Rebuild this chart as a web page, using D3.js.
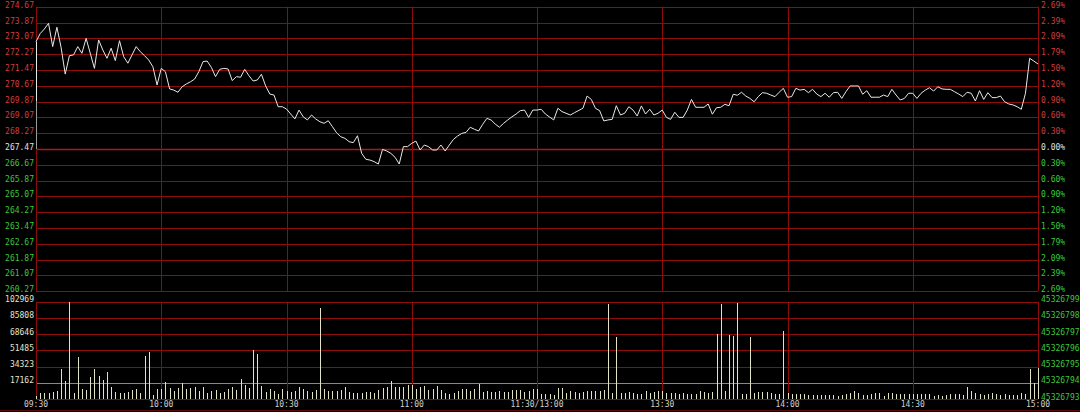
<!DOCTYPE html>
<html><head><meta charset="utf-8">
<script src="https://cdn.jsdelivr.net/npm/d3@7"></script>
<style>
html,body{margin:0;padding:0;background:#000;}
svg{display:block;}
text{font-family:"DejaVu Sans Mono",monospace;font-size:8px;}
</style></head>
<body>
<script>
// ---------- DATA ----------
const preClose = 267.47;
const priceTicks = [274.67,273.87,273.07,272.27,271.47,270.67,269.87,269.07,268.27,267.47,266.67,265.87,265.07,264.27,263.47,262.67,261.87,261.07,260.27];
const pctLabels = ["2.69%","2.39%","2.09%","1.79%","1.50%","1.20%","0.90%","0.60%","0.30%","0.00%","0.30%","0.60%","0.90%","1.20%","1.50%","1.79%","2.09%","2.39%","2.69%"];
const volTicks = [102969,85808,68646,51485,34323,17162];
const volRightTicks = [102969,85808,68646,51485,34323,17162,0];
const volRightLabels = ["45326799","45326798","45326797","45326796","45326795","45326794","45326793"];
const timeMinutes = [0,30,60,90,120,150,180,210,240];
const timeLabels = ["09:30","10:00","10:30","11:00","11:30/13:00","13:30","14:00","14:30","15:00"];
const openSpan = [267.47, 269.9];

const priceMinutes = [0,1,2,3,4,5,6,7,8,9,10,11,12,14,15,16,17,18,19,20,21,22,24,25,26,27,28,29,30,31,32,33,34,35,36,37,38,39,40,41,42,43,44,45,46,47,48,49,50,51,52,53,54,55,56,57,58,59,60,62,63,64,65,66,67,68,69,70,71,72,73,74,75,76,77,78,79,80,81,82,83,84,85,86,87,88,89,90,91,92,93,94,95,96,97,98,99,100,101,102,103,104,105,106,107,108,109,110,111,112,113,114,115,116,117,118,119,120,121,122,124,125,126,128,129,131,132,133,134,135,136,137,138,139,140,141,142,143,144,145,146,147,148,149,150,151,152,153,154,155,156,157,158,159,160,161,162,163,164,165,166,167,168,169,170,171,172,173,174,175,176,177,178,179,180,181,182,183,184,185,186,187,188,189,190,191,192,193,194,195,196,197,198,199,200,201,202,203,204,205,206,207,208,209,210,211,212,213,214,215,216,217,218,219,220,221,222,223,224,225,226,227,228,229,230,231,232,233,234,235,236,237,238,239,240];
const priceValues = [272.90,273.31,273.54,273.83,272.65,273.63,272.62,271.26,272.19,272.23,272.65,272.31,273.07,271.55,272.99,272.48,272.06,272.57,271.94,272.95,272.14,271.81,272.65,272.39,272.19,271.97,271.63,270.71,271.55,271.38,270.51,270.45,270.34,270.62,270.76,270.87,271.01,271.38,271.89,271.92,271.60,271.13,271.50,271.55,271.52,270.93,271.13,271.10,271.50,271.18,270.91,270.96,271.25,270.66,270.25,270.20,269.61,269.61,269.49,268.99,269.44,269.10,268.94,269.19,268.99,268.85,268.77,268.90,268.60,268.29,268.09,268.01,267.84,267.79,268.14,267.25,266.95,266.91,266.83,266.71,267.45,267.37,267.25,267.05,266.71,267.59,267.59,267.76,267.87,267.42,267.67,267.59,267.42,267.42,267.67,267.37,267.67,267.96,268.13,268.26,268.31,268.57,268.47,268.38,268.72,269.02,268.94,268.73,268.57,268.77,268.94,269.10,269.24,269.41,269.44,269.07,269.44,269.44,269.48,269.24,268.94,269.53,269.36,269.19,269.31,269.53,270.15,269.98,269.53,269.41,268.89,268.94,268.97,269.66,269.19,269.28,269.61,269.44,269.14,269.65,269.24,269.48,269.19,269.28,269.44,269.07,268.97,269.33,269.07,269.07,269.44,269.98,269.58,269.58,269.58,269.75,269.23,269.56,269.58,269.73,269.66,270.24,270.19,270.34,270.15,270.03,269.86,270.12,270.32,270.29,270.20,270.12,270.34,270.54,270.09,270.12,270.54,270.45,270.49,270.32,270.49,270.25,270.12,270.29,270.09,270.32,270.34,270.03,270.37,270.66,270.66,270.66,270.24,270.42,270.09,270.09,270.09,270.20,270.12,270.49,270.20,269.95,270.03,270.29,270.29,270.03,270.29,270.45,270.57,270.40,270.62,270.51,270.49,270.49,270.37,270.25,270.12,270.34,270.29,269.90,270.42,269.98,270.32,270.07,270.07,270.15,269.86,269.75,269.70,269.61,269.48,270.29,272.06,271.92,271.77];

const volumes = [3500,6700,6000,6700,7700,8800,31700,18700,102969,6700,44400,10200,9500,22900,31300,24600,20400,28500,13000,7700,
6700,6700,7700,9500,10600,6300,45400,50000,4200,10200,10900,17600,11300,8800,11600,16900,10200,12000,12300,8100,
12300,6000,8800,9500,6700,7000,10200,12700,9500,20800,14400,11300,51700,47200,13700,7700,10200,8400,5600,10200,
8100,7700,8100,13000,10200,8800,7700,9900,96800,10200,8800,8400,8100,9500,12300,7000,6300,6700,6300,7700,
7000,6700,9500,11600,13000,19000,13000,12700,12700,14400,14400,10600,12700,14100,9900,10600,13400,9500,6700,5600,
6700,8800,10200,10600,8400,10600,16200,7000,8400,7700,7700,8400,7700,7700,9200,9500,9500,7400,8400,10600,
10200,5300,5300,5300,4200,11600,11600,6700,8100,7400,6700,7000,8100,8400,8100,8400,9500,100300,6000,65800,
6700,6000,7000,6000,5300,5300,8100,6700,7400,8400,8800,6700,6300,6000,5600,6300,5600,5600,5300,8100,
7000,6700,7400,68300,100300,8800,67600,66500,101500,5300,5300,65800,6300,7700,7700,7000,6700,4900,5300,72200,
6000,4900,4900,5300,4900,4200,3900,3900,3900,3900,4200,4600,3200,4600,5300,6700,8400,6300,4600,4600,
5600,6300,6000,3500,6300,6000,4900,4900,4900,4900,4900,5600,4900,4900,4900,3200,3900,3500,3900,4900,
4900,4900,4200,12700,8800,6700,4900,4200,4900,6000,5600,4600,4900,4200,3900,4200,6000,4900,32000,16500,
32700];

// ---------- DRAW ----------
const W = 1080, H = 412;
const RED = "#8e0c0c", UPC = "#d23c3c", DNC = "#3cc83c";
const svg = d3.select("body").append("svg").attr("width", W).attr("height", H);
svg.append("rect").attr("width", W).attr("height", H).attr("fill", "#000");

const x = d3.scaleLinear().domain([0, 240]).range([36, 1038]);
const yP = d3.scaleLinear().domain([260.27, 274.67]).range([291.3, 6.7]);
const yV = d3.scaleLinear().domain([0, 102969]).range([399, 301.7]);
const px = v => Math.round(v) + 0.5;

// price horizontal grid
svg.append("g").selectAll("line").data(priceTicks).join("line")
  .attr("x1", x(0)).attr("x2", x(240))
  .attr("y1", d => px(yP(d))).attr("y2", d => px(yP(d)))
  .attr("stroke", d => d === preClose ? "#b01818" : RED)
  .attr("stroke-width", d => d === preClose ? 1.5 : 1);

// vertical grid price panel
svg.append("g").selectAll("line").data(timeMinutes).join("line")
  .attr("x1", d => px(x(d))).attr("x2", d => px(x(d)))
  .attr("y1", yP(274.67)).attr("y2", yP(260.27))
  .attr("stroke", RED);

// volume horizontal grid
svg.append("g").selectAll("line").data(volRightTicks).join("line")
  .attr("x1", x(0)).attr("x2", x(240))
  .attr("y1", d => px(yV(d))).attr("y2", d => px(yV(d)))
  .attr("stroke", d => d === 17162 ? "#2ec82e" : RED);

// vertical grid volume panel
svg.append("g").selectAll("line").data(timeMinutes).join("line")
  .attr("x1", d => px(x(d))).attr("x2", d => px(x(d)))
  .attr("y1", yV(102969)).attr("y2", yV(0))
  .attr("stroke", RED);

// bottom border
svg.append("line").attr("x1", 0).attr("x2", W).attr("y1", 410.5).attr("y2", 410.5)
  .attr("stroke", "#5a0808");

// price labels left
svg.append("g").selectAll("text").data(priceTicks).join("text")
  .attr("x", 34).attr("y", d => yP(d) + 1)
  .attr("text-anchor", "end")
  .attr("fill", d => d > preClose ? UPC : (d < preClose ? DNC : "#e0e0e0"))
  .text(d => d.toFixed(2));

// pct labels right
svg.append("g").selectAll("text").data(priceTicks).join("text")
  .attr("x", 1041).attr("y", d => yP(d) + 1)
  .attr("fill", d => d > preClose ? UPC : (d < preClose ? DNC : "#e0e0e0"))
  .text((d, i) => pctLabels[i]);

// volume labels left
svg.append("g").selectAll("text").data(volTicks).join("text")
  .attr("x", 34).attr("y", d => yV(d) + 0.5)
  .attr("text-anchor", "end").attr("fill", "#e4e4cc")
  .text(d => d);

// volume labels right
svg.append("g").selectAll("text").data(volRightTicks).join("text")
  .attr("x", 1041).attr("y", d => yV(d) + 0.5)
  .attr("fill", DNC)
  .text((d, i) => volRightLabels[i]);

// time labels
svg.append("g").selectAll("text").data(timeMinutes).join("text")
  .attr("x", d => x(d)).attr("y", 407)
  .attr("text-anchor", "middle").attr("fill", "#d0d0d0")
  .text((d, i) => timeLabels[i]);

// volume bars
svg.append("g").attr("shape-rendering", "crispEdges").selectAll("rect").data(volumes).join("rect")
  .attr("x", (d, i) => Math.round(x(i)))
  .attr("width", 1)
  .attr("y", d => yV(d))
  .attr("height", d => yV(0) - yV(d))
  .attr("fill", "#e2e2c4");

// opening tick
svg.append("line")
  .attr("x1", px(x(0))).attr("x2", px(x(0)))
  .attr("y1", yP(openSpan[0])).attr("y2", yP(openSpan[1]))
  .attr("stroke", "#9a9a9a");

// price line
const pts = priceMinutes.map((m, i) => [m, priceValues[i]]);
svg.append("path").datum(pts)
  .attr("d", d3.line().x(d => x(d[0])).y(d => yP(d[1])))
  .attr("fill", "none").attr("stroke", "#e8e8e8").attr("stroke-width", 1);
svg.append("line")
  .attr("x1", px(x(0))).attr("x2", px(x(0)))
  .attr("y1", yP(openSpan[1])).attr("y2", yP(priceValues[0]))
  .attr("stroke", "#e8e8e8");
</script>
</body></html>
